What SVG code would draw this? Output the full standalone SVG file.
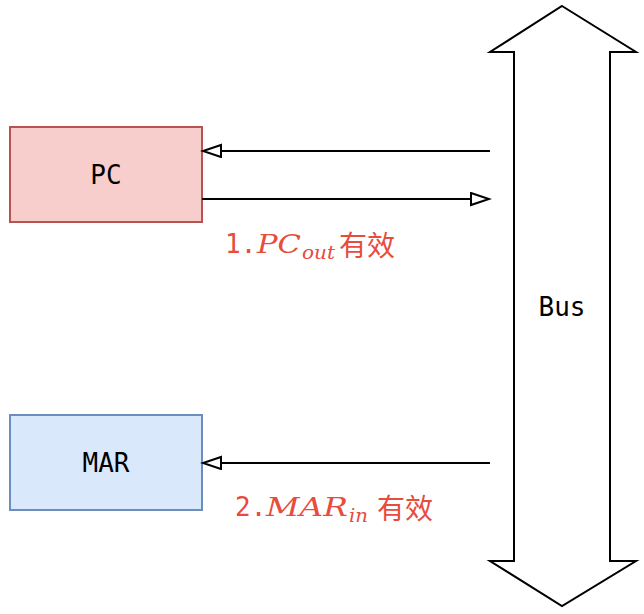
<svg xmlns="http://www.w3.org/2000/svg" width="644" height="614" viewBox="0 0 644 614">
  <style>
    .node-text { font-family: "DejaVu Sans Mono", "Liberation Mono", monospace; font-size: 26px; fill: #000; text-anchor: middle; dominant-baseline: central; }
    .edge { fill: none; stroke: #000; stroke-width: 2; }
    .lbl { fill: #e74c3c; }
    .mono { font-family: "DejaVu Sans Mono", "Liberation Mono", monospace; font-size: 26px; }
    .math { font-family: "DejaVu Serif", "Liberation Serif", serif; font-style: italic; font-size: 26px; }
    .sub { font-family: "DejaVu Serif", "Liberation Serif", serif; font-style: italic; font-size: 19px; }
    .cjk { font-family: "Noto Sans CJK SC", "Noto Sans", sans-serif; font-size: 28px; }
  </style>
  <defs>
    <marker id="open" markerWidth="22" markerHeight="16" refX="19" refY="7" orient="auto" markerUnits="userSpaceOnUse">
      <path d="M1,1 L19,7 L1,13 Z" fill="#fff" stroke="#000" stroke-width="2"/>
    </marker>
  </defs>
  <rect width="644" height="614" fill="#fff"/>
  <g id="bus">
    <polygon points="562,6 636,52 610,52 610,561 636,561 562,606 490,561 514,561 514,52 490,52" fill="#fff" stroke="#000" stroke-width="2" stroke-linejoin="miter"/>
    <text class="node-text" x="562" y="307">Bus</text>
  </g>
  <g id="pc">
    <rect x="10" y="127" width="192" height="95" fill="#f8cecc" stroke="#b85450" stroke-width="2"/>
    <text class="node-text" x="106" y="175">PC</text>
  </g>
  <g id="mar">
    <rect x="10" y="415" width="192" height="95" fill="#dae8fc" stroke="#6c8ebf" stroke-width="2"/>
    <text class="node-text" x="106" y="463">MAR</text>
  </g>
  <g id="connectors">
    <line class="edge" x1="490" y1="151" x2="203" y2="151" marker-end="url(#open)"/>
    <line class="edge" x1="202" y1="199" x2="489" y2="199" marker-end="url(#open)"/>
    <line class="edge" x1="490" y1="463" x2="203" y2="463" marker-end="url(#open)"/>
  </g>
  <g id="label1" class="lbl">
    <text class="mono" x="225" y="253">1.</text>
    <text class="math" x="257" y="253" textLength="44" lengthAdjust="spacingAndGlyphs">PC</text>
    <text class="sub" x="302" y="259" textLength="33" lengthAdjust="spacingAndGlyphs">out</text>
    <text class="cjk" x="339" y="256">有效</text>
  </g>
  <g id="label2" class="lbl">
    <text class="mono" x="235" y="516">2.</text>
    <text class="math" x="266" y="516" textLength="82" lengthAdjust="spacingAndGlyphs">MAR</text>
    <text class="sub" x="349" y="522" textLength="19" lengthAdjust="spacingAndGlyphs">in</text>
    <text class="cjk" x="377" y="519">有效</text>
  </g>
</svg>
